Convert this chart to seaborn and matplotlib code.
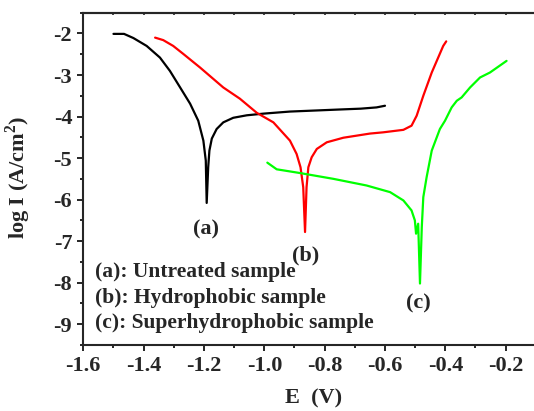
import matplotlib
matplotlib.use("Agg")
import matplotlib.pyplot as plt
import seaborn as sns
import pandas as pd
from matplotlib.ticker import MultipleLocator

sns.set_style("ticks")
plt.rcParams['font.family'] = ['Liberation Serif', 'DejaVu Serif']
plt.rcParams['font.weight'] = 'bold'
plt.rcParams['mathtext.fontset'] = 'custom'
plt.rcParams['mathtext.rm'] = 'Liberation Serif:bold'

# (a) Untreated sample
E_a = [-1.500, -1.465, -1.434, -1.390, -1.346, -1.313, -1.279, -1.246, -1.219, -1.202, -1.194,
       -1.191, -1.186, -1.182, -1.174, -1.158, -1.136, -1.103, -1.058, -1.003, -0.915, -0.815,
       -0.749, -0.680, -0.628, -0.600]
logI_a = [-2.01, -2.01, -2.11, -2.30, -2.58, -2.90, -3.30, -3.69, -4.10, -4.58, -5.06,
          -6.08, -5.22, -4.82, -4.53, -4.30, -4.14, -4.03, -3.97, -3.93, -3.88, -3.85,
          -3.83, -3.81, -3.78, -3.74]

# (b) Hydrophobic sample
E_b = [-1.362, -1.335, -1.302, -1.269, -1.213, -1.136, -1.081, -1.025, -0.970, -0.915,
       -0.893, -0.880, -0.871, -0.865, -0.860, -0.854, -0.843, -0.826, -0.793, -0.738, -0.650,
       -0.606, -0.539, -0.512, -0.495, -0.473, -0.445, -0.407, -0.397]
logI_b = [-2.10, -2.16, -2.30, -2.49, -2.82, -3.30, -3.57, -3.91, -4.14, -4.58,
          -4.90, -5.22, -5.70, -6.78, -5.70, -5.22, -4.98, -4.78, -4.62, -4.51, -4.41,
          -4.38, -4.32, -4.22, -3.98, -3.50, -2.94, -2.30, -2.19]

# (c) Superhydrophobic sample
E_c = [-0.990, -0.959, -0.882, -0.771, -0.661, -0.583, -0.539, -0.512, -0.501, -0.497, -0.490,
       -0.484, -0.478, -0.473, -0.462, -0.445, -0.418, -0.401, -0.379, -0.362, -0.346, -0.318,
       -0.285, -0.252, -0.197]
logI_c = [-5.11, -5.27, -5.36, -5.50, -5.66, -5.82, -6.02, -6.26, -6.50, -6.82, -6.58,
          -8.02, -6.66, -5.94, -5.46, -4.82, -4.30, -4.10, -3.78, -3.62, -3.54, -3.30,
          -3.06, -2.94, -2.66]

curve_labels = ["(a)", "(b)", "(c)"]
label_pos_E = [-1.193, -0.863, -0.490]
label_pos_I = [-6.73, -7.34, -8.50]
legend_lines = ["(a): Untreated sample", "(b): Hydrophobic sample", "(c): Superhydrophobic sample"]
legend_I = [-7.74, -8.36, -8.98]
colors = ["#000000", "#ff0000", "#00ff00"]

fig = plt.figure(figsize=(5.34, 4.11), dpi=100)
ax = fig.add_axes([83.3 / 534, 1 - 345 / 411, (566 - 83.3) / 534, (345 - 12.7) / 411])

for E, I, c in zip([E_a, E_b, E_c], [logI_a, logI_b, logI_c], colors):
    df = pd.DataFrame({"E": E, "logI": I})
    sns.lineplot(data=df, x="E", y="logI", sort=False, estimator=None, color=c, lw=1.6, ax=ax)

ax.set_xlim(-1.6, 0.0)
ax.set_ylim(-9.5, -1.5)
xt = [-1.6, -1.4, -1.2, -1.0, -0.8, -0.6, -0.4, -0.2]
ax.set_xticks(xt)
ax.set_xticklabels([f"{v:.1f}" for v in xt])
yt = [-9, -8, -7, -6, -5, -4, -3, -2]
ax.set_yticks(yt)
ax.set_yticklabels([str(v) for v in yt])
ax.xaxis.set_minor_locator(MultipleLocator(0.1))
ax.yaxis.set_minor_locator(MultipleLocator(0.5))
ax.tick_params(axis='both', which='major', length=4.5, width=1.4, labelsize=16, direction='out', pad=3.5)
ax.tick_params(axis='both', which='minor', length=2.5, width=1.4, direction='out')
for lab in ax.get_xticklabels() + ax.get_yticklabels():
    lab.set_fontweight('bold')
for s in ax.spines.values():
    s.set_linewidth(1.5)
    s.set_visible(True)

# small inward ticks on the top spine
sec = ax.secondary_xaxis('top')
sec.set_xticks(xt)
sec.xaxis.set_minor_locator(MultipleLocator(0.1))
sec.tick_params(axis='x', which='both', direction='in', length=1.5, width=1.2, labeltop=False)
sec.spines['top'].set_linewidth(1.5)

ax.set_xlabel("E  (V)", fontsize=16, fontweight='bold')
ax.set_ylabel(r"log I (A/cm$^{2}$)", fontsize=16, fontweight='bold')
ax.xaxis.set_label_coords(0.476, -0.132)
ax.yaxis.set_label_coords(-0.104, 0.504)

for t, x, y in zip(curve_labels, label_pos_E, label_pos_I):
    ax.text(x, y, t, ha='center', va='center', fontsize=16, fontweight='bold')

for t, y in zip(legend_lines, legend_I):
    ax.text(-1.562, y, t, ha='left', va='center', fontsize=15.5, fontweight='bold')

fig.savefig("out.png", dpi=100)
